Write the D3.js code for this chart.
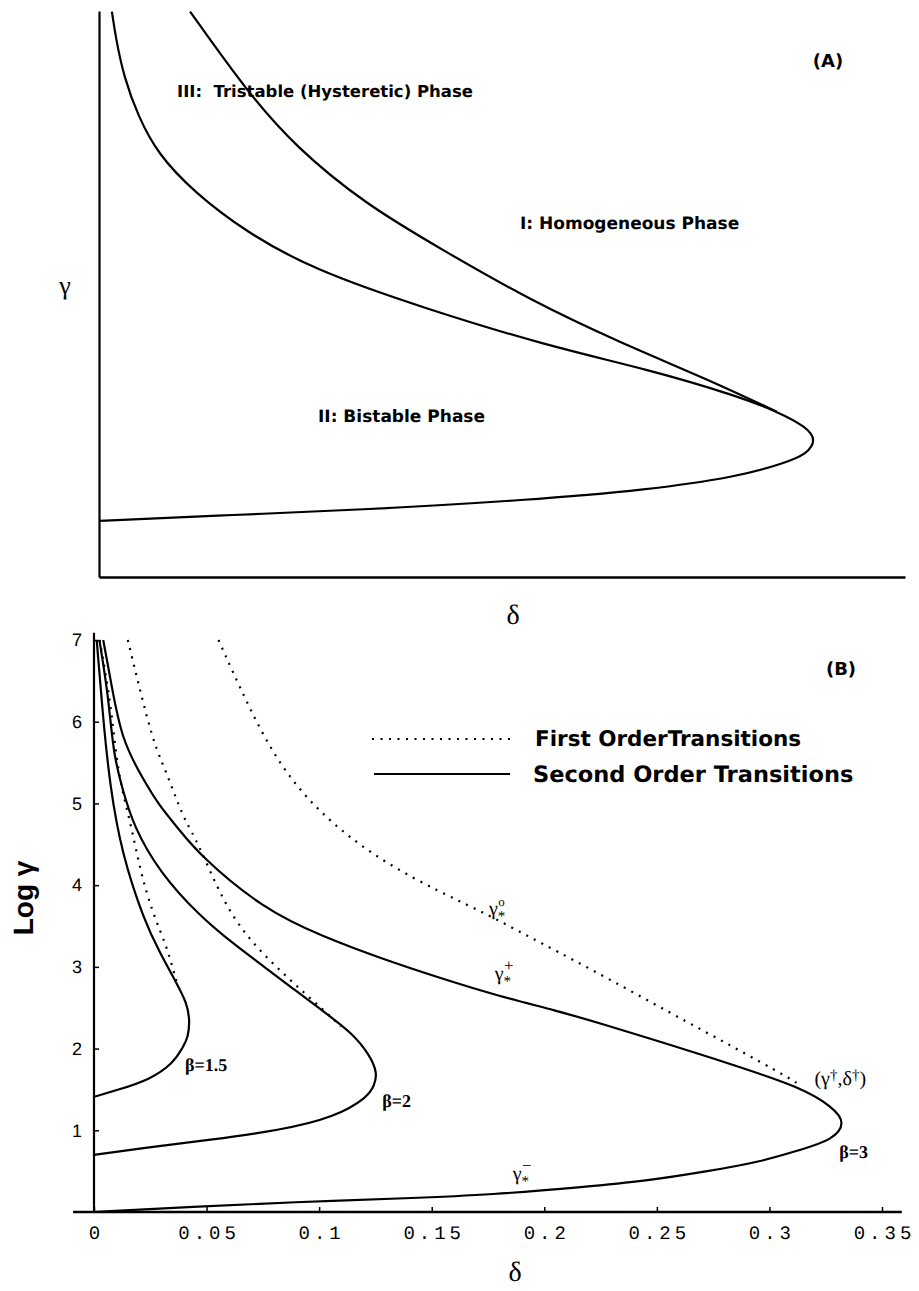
<!DOCTYPE html>
<html>
<head>
<meta charset="utf-8">
<script src="https://cdn.jsdelivr.net/npm/d3@7"></script>
<style>
  body { margin: 0; background: #fff; }
  svg { display: block; }
  text { text-rendering: geometricPrecision; fill: #000; }
  .curve { fill: none; stroke: #000; stroke-width: 2.2; }
  .dotted { stroke-dasharray: 2, 6.5; }
  .bold { font-family: "DejaVu Sans", sans-serif; font-weight: bold; }
  .serif { font-family: "Liberation Serif", "DejaVu Serif", serif; }
</style>
</head>
<body>
<svg width="919" height="1291"></svg>
<script>
//panel A (no units on either axis, both read as 0..1 of the frame)
const aSecondOrder = [
  [0.016, 0.999], [0.021, 0.951], [0.031, 0.883], [0.048, 0.816], [0.073, 0.747],
  [0.118, 0.68], [0.181, 0.611], [0.264, 0.544], [0.403, 0.475], [0.557, 0.408],
  [0.681, 0.367], [0.792, 0.320], [0.842, 0.292], [0.878, 0.265], [0.890, 0.242],
  [0.878, 0.217], [0.850, 0.201], [0.792, 0.177], [0.681, 0.154], [0.535, 0.136],
  [0.316, 0.118], [0.170, 0.110], [0.001, 0.099]
];
const aFirstOrder = [
  [0.113, 0.999], [0.184, 0.857], [0.243, 0.761], [0.330, 0.659], [0.426, 0.578],
  [0.535, 0.489], [0.645, 0.415], [0.754, 0.350], [0.841, 0.292]
];

//panel B: delta on x, log gamma on y
const xTicks = [0, 0.05, 0.1, 0.15, 0.2, 0.25, 0.3, 0.35];
const xTickLabels = ['0', '0.05', '0.1', '0.15', '0.2', '0.25', '0.3', '0.35'];
const yTicks = [1, 2, 3, 4, 5, 6, 7];

const beta15Second = [
  [0.0012, 7.0], [0.0041, 6.02], [0.0071, 5.21], [0.0123, 4.39], [0.0222, 3.57],
  [0.0293, 3.17], [0.0367, 2.80], [0.0412, 2.56], [0.0426, 2.35], [0.0418, 2.14],
  [0.0396, 2.02], [0.0352, 1.82], [0.0249, 1.62], [0.0101, 1.49], [0, 1.41]
];
const beta15First = [
  [0.0025, 7.0], [0.0075, 6.23], [0.0107, 5.33], [0.016, 4.80], [0.0204, 4.19],
  [0.026, 3.66], [0.0323, 3.25], [0.0352, 2.96], [0.0373, 2.76]
];
const beta2Second = [
  [0.0024, 7.0], [0.0064, 6.31], [0.0086, 5.61], [0.0123, 5.21], [0.0175, 4.72],
  [0.0293, 4.15], [0.047, 3.62], [0.0625, 3.27], [0.0756, 3.0], [0.0886, 2.73],
  [0.1016, 2.46], [0.1147, 2.19], [0.1225, 1.92], [0.1259, 1.70], [0.1245, 1.55],
  [0.1218, 1.41], [0.107, 1.16], [0.0826, 1.0], [0.051, 0.88], [0.024, 0.79], [0, 0.70]
];
const beta2First = [
  [0.015, 7.0], [0.019, 6.55], [0.0234, 6.06], [0.0278, 5.65], [0.0323, 5.37],
  [0.0367, 5.04], [0.041, 4.76], [0.046, 4.53], [0.0573, 3.80], [0.0678, 3.37],
  [0.0808, 3.0], [0.0938, 2.67], [0.1069, 2.35], [0.1095, 2.27]
];
const beta3Second = [
  [0.0041, 7.0], [0.0079, 6.43], [0.0123, 5.78], [0.0219, 5.29], [0.0293, 4.96],
  [0.0367, 4.72], [0.047, 4.36], [0.0756, 3.70], [0.1016, 3.37], [0.1277, 3.10],
  [0.154, 2.86], [0.18, 2.64], [0.206, 2.46], [0.2247, 2.31], [0.258, 2.03],
  [0.284, 1.80], [0.3135, 1.53], [0.328, 1.29], [0.334, 1.09], [0.328, 0.88],
  [0.3135, 0.76], [0.297, 0.62], [0.271, 0.49], [0.245, 0.38], [0.219, 0.31],
  [0.176, 0.21], [0.141, 0.17], [0.088, 0.12], [0.044, 0.065], [0, 0]
];
const beta3First = [
  [0.0553, 7.0], [0.0678, 6.23], [0.083, 5.42], [0.104, 4.78], [0.128, 4.29],
  [0.154, 3.91], [0.175, 3.64], [0.193, 3.37], [0.219, 3.0], [0.257, 2.42],
  [0.284, 2.02], [0.31, 1.62], [0.312, 1.58]
];

const svg = d3.select('svg');

// ---------- panel A ----------
const xA = d3.scaleLinear().domain([0, 1]).range([99, 905]);
const yA = d3.scaleLinear().domain([0, 1]).range([577, 11]);
const lineA = d3.line().x(d => xA(d[0])).y(d => yA(d[1])).curve(d3.curveBasis);

const gA = svg.append('g');
gA.append('g').attr('transform', `translate(0,${yA(0)})`)
  .call(d3.axisBottom(xA).ticks(0).tickSizeOuter(0))
  .select('.domain').attr('stroke-width', 2.5);
gA.append('g').attr('transform', `translate(${xA(0)},0)`)
  .call(d3.axisLeft(yA).ticks(0).tickSizeOuter(0))
  .select('.domain').attr('stroke-width', 2.2);

gA.append('path').attr('class', 'curve').attr('stroke-width', 1.8).attr('d', lineA(aSecondOrder));
gA.append('path').attr('class', 'curve').attr('stroke-width', 1.8).attr('d', lineA(aFirstOrder));

gA.append('text').attr('class', 'bold').attr('x', 828).attr('y', 67)
  .attr('text-anchor', 'middle').attr('font-size', 18).text('(A)');
gA.append('text').attr('class', 'bold').attr('x', 177).attr('y', 97)
  .attr('font-size', 16.5).attr('xml:space', 'preserve').text('III:  Tristable (Hysteretic) Phase');
gA.append('text').attr('class', 'bold').attr('x', 520).attr('y', 229)
  .attr('font-size', 17).text('I: Homogeneous Phase');
gA.append('text').attr('class', 'bold').attr('x', 318).attr('y', 422)
  .attr('font-size', 17).text('II: Bistable Phase');
gA.append('text').attr('class', 'serif').attr('x', 65).attr('y', 294)
  .attr('text-anchor', 'middle').attr('font-size', 26).text('γ');
gA.append('text').attr('class', 'serif').attr('x', 513).attr('y', 624)
  .attr('text-anchor', 'middle').attr('font-size', 28).text('δ');

// ---------- panel B ----------
const xB = d3.scaleLinear().domain([0, 0.35]).range([94, 882]);
const yB = d3.scaleLinear().domain([0, 7]).range([1212, 640]);
const lineB = d3.line().x(d => xB(d[0])).y(d => yB(d[1])).curve(d3.curveBasis);

const gB = svg.append('g');

//x axis, ticks pointing in
const xAxis = gB.append('g').attr('transform', `translate(0,${yB(0)})`)
  .call(d3.axisBottom(xB).tickValues(xTicks).tickFormat((d, i) => xTickLabels[i])
    .tickSize(-5).tickPadding(14));
xAxis.select('.domain').remove();
xAxis.selectAll('.tick line').attr('stroke-width', 1.5);
xAxis.selectAll('.tick text')
  .attr('font-family', '"Liberation Mono", "DejaVu Sans Mono", monospace')
  .attr('font-size', 19).attr('letter-spacing', '4px').attr('dx', 2);
gB.append('line')
  .attr('x1', xB(-0.0093)).attr('x2', xB(0.3588))
  .attr('y1', yB(0)).attr('y2', yB(0))
  .attr('stroke', '#000').attr('stroke-width', 2.4);

//y axis
const yAxis = gB.append('g').attr('transform', `translate(${xB(0)},0)`)
  .call(d3.axisLeft(yB).tickValues(yTicks).tickFormat(d3.format('d'))
    .tickSize(-5).tickPadding(12));
yAxis.select('.domain').remove();
yAxis.selectAll('.tick line').attr('stroke-width', 1.5);
yAxis.selectAll('.tick text')
  .attr('font-family', '"Liberation Sans", Arial, sans-serif').attr('font-size', 18);
gB.append('line')
  .attr('x1', xB(0)).attr('x2', xB(0))
  .attr('y1', yB(0)).attr('y2', yB(7.09))
  .attr('stroke', '#000').attr('stroke-width', 2.2);

//curves
const solids = [beta15Second, beta2Second, beta3Second];
const dots = [beta15First, beta2First, beta3First];
gB.selectAll('.solidB').data(solids).enter().append('path')
  .attr('class', 'curve solidB').attr('d', lineB);
gB.selectAll('.dotB').data(dots).enter().append('path')
  .attr('class', 'curve dotted dotB').attr('d', lineB);

//legend
gB.append('line').attr('class', 'curve dotted')
  .attr('x1', 372).attr('x2', 512).attr('y1', 739).attr('y2', 739);
gB.append('line').attr('class', 'curve')
  .attr('x1', 374).attr('x2', 510).attr('y1', 774).attr('y2', 774);
gB.append('text').attr('class', 'bold').attr('x', 535).attr('y', 746)
  .attr('font-size', 21.5).text('First OrderTransitions');
gB.append('text').attr('class', 'bold').attr('x', 533).attr('y', 782)
  .attr('font-size', 22.5).text('Second Order Transitions');
gB.append('text').attr('class', 'bold').attr('x', 841).attr('y', 675)
  .attr('text-anchor', 'middle').attr('font-size', 18).text('(B)');

//curve labels
const beta = (x, y, s) => gB.append('text').attr('class', 'serif')
  .attr('font-weight', 'bold').attr('font-size', 18)
  .attr('x', xB(x)).attr('y', yB(y)).text(s);
beta(0.0404, 1.73, 'β=1.5');
beta(0.128, 1.29, 'β=2');
beta(0.331, 0.66, 'β=3');

//gamma with a star below and a mark above, drawn as one text
const gammaStar = (x, y, sup) => {
  const t = gB.append('text').attr('class', 'serif').attr('font-size', 20)
    .attr('x', xB(x)).attr('y', yB(y));
  t.append('tspan').text('γ');
  t.append('tspan').attr('font-size', 15).attr('dy', 6).text('*');
  t.append('tspan').attr('font-size', sup === 'o' ? 13 : 17).attr('dx', -7).attr('dy', -15).text(sup);
};
gammaStar(0.1754, 3.64, 'o');
gammaStar(0.178, 2.84, '+');
gammaStar(0.186, 0.39, '−');

const dag = gB.append('text').attr('class', 'serif').attr('font-size', 20)
  .attr('x', xB(0.320)).attr('y', yB(1.55));
dag.append('tspan').text('(γ');
dag.append('tspan').attr('font-size', 15).attr('dy', -5).text('†');
dag.append('tspan').attr('dy', 5).text(',δ');
dag.append('tspan').attr('font-size', 15).attr('dy', -5).text('†');
dag.append('tspan').attr('dy', 5).text(')');

//axis titles
gB.append('text').attr('class', 'serif').attr('x', 515).attr('y', 1281)
  .attr('text-anchor', 'middle').attr('font-size', 28).text('δ');
gB.append('text')
  .attr('font-family', '"Liberation Sans", Arial, sans-serif').attr('font-weight', 'bold')
  .attr('font-size', 28).attr('text-anchor', 'middle')
  .attr('transform', 'translate(33,898) rotate(-90)').text('Log γ');
</script>
</body>
</html>
